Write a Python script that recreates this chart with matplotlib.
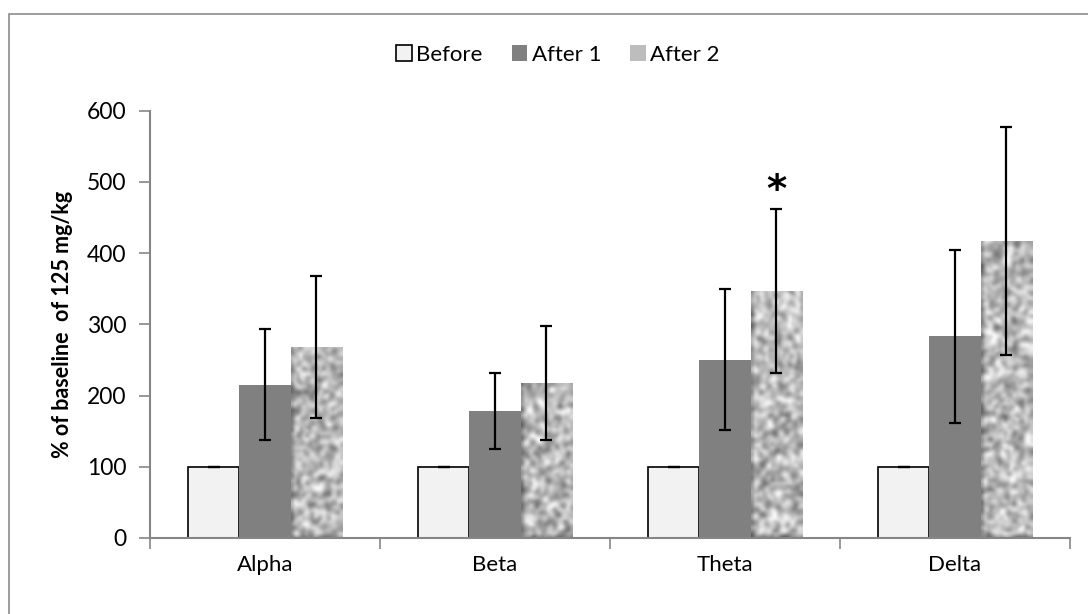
import matplotlib
matplotlib.use("Agg")
import matplotlib.pyplot as plt
import numpy as np
from matplotlib.patches import Rectangle, Patch

bands = ["Alpha", "Beta", "Theta", "Delta"]
series = ["Before", "After 1", "After 2"]
before = [100, 100, 100, 100]
after1 = [215, 178, 250, 283]
after2 = [268, 218, 347, 417]
err_before = [0, 0, 0, 0]
err_after1 = [78, 53, 99, 122]
err_after2 = [100, 80, 115, 160]
star_band = "Theta"
star_y = 487

plt.rcParams['font.family'] = ['Lato', 'DejaVu Sans']

fig = plt.figure(figsize=(10.88, 6.14), dpi=100)
ax = fig.add_axes([150/1088, 1-538/614, 920/1088, (538-110.7)/614])

# outer frame of the chart area
fig.patches.append(Rectangle((8.5/1088, -0.1), 1.2, (614-13.5)/614 + 0.1,
                             transform=fig.transFigure, fill=False,
                             edgecolor='#8c8c8c', lw=1.2))

x = np.arange(len(bands))
w = 1 / 4.5
gray = '#868686'

b0 = ax.bar(x - w, before, w, color='#f2f2f2', edgecolor='black', lw=1.2, zorder=2)
b1 = ax.bar(x, after1, w, color='#808080', edgecolor='none', zorder=2)
b2 = ax.bar(x + w, after2, w, color='none', edgecolor='none', zorder=2)

# granite like texture for the third series (rows follow y, ~3 px per cell)
rng = np.random.default_rng(7)
k = np.ones(2) / 2
for bar in b2:
    noise = rng.random((145, 18))
    noise = np.apply_along_axis(lambda r: np.convolve(r, k, mode='same'), 1, noise)
    noise = np.apply_along_axis(lambda c: np.convolve(c, k, mode='same'), 0, noise)
    noise = (noise - noise.min()) / (noise.max() - noise.min())
    im = ax.imshow(noise, cmap='gray', vmin=-0.45, vmax=0.9, aspect='auto',
                   interpolation='bicubic', origin='lower',
                   extent=[bar.get_x(), bar.get_x() + bar.get_width(), 0, 600],
                   zorder=2)
    im.set_clip_path(bar)

ekw = dict(fmt='none', ecolor='black', elinewidth=1.6, capsize=4, capthick=1.6, zorder=3)
ax.errorbar(x - w, before, yerr=err_before, **ekw)
ax.errorbar(x, after1, yerr=err_after1, **ekw)
ax.errorbar(x + w, after2, yerr=err_after2, **ekw)

ax.text(bands.index(star_band) + w, star_y, "*", ha='center', va='center',
        fontsize=28, fontweight='bold', fontfamily='DejaVu Sans', color='black')

ax.set_xlim(-0.5, len(bands) - 0.5)
ax.set_ylim(0, 600)
ax.set_xticks(x)
ax.set_xticklabels(bands, fontsize=16)
ax.set_xticks(np.arange(-0.5, len(bands)), minor=True)
ax.tick_params(axis='x', which='major', length=0, pad=12)
ax.tick_params(axis='x', which='minor', length=8, color=gray, width=1.2)
ax.set_yticks(range(0, 601, 100))
ax.tick_params(axis='y', length=8, color=gray, width=1.2, labelsize=16.5, pad=9)
for s in ['top', 'right']:
    ax.spines[s].set_visible(False)
for s in ['left', 'bottom']:
    ax.spines[s].set_color(gray)
    ax.spines[s].set_linewidth(1.5)
ax.set_ylabel("% of baseline  of 125 mg/kg", fontsize=15.5, fontweight='bold')
ax.yaxis.set_label_coords(-0.084, 0.5)

handles = [Patch(facecolor='#f2f2f2', edgecolor='black', lw=1.2),
           Patch(facecolor='#808080', edgecolor='none'),
           Patch(facecolor='#bdbdbd', edgecolor='none')]
fig.legend(handles, series, loc='center', bbox_to_anchor=(558/1088, 1-55/614),
           ncol=3, frameon=False, fontsize=16, handlelength=0.7, handleheight=0.7,
           handletextpad=0.2, columnspacing=1.3)

fig.savefig("out.png", dpi=100)
